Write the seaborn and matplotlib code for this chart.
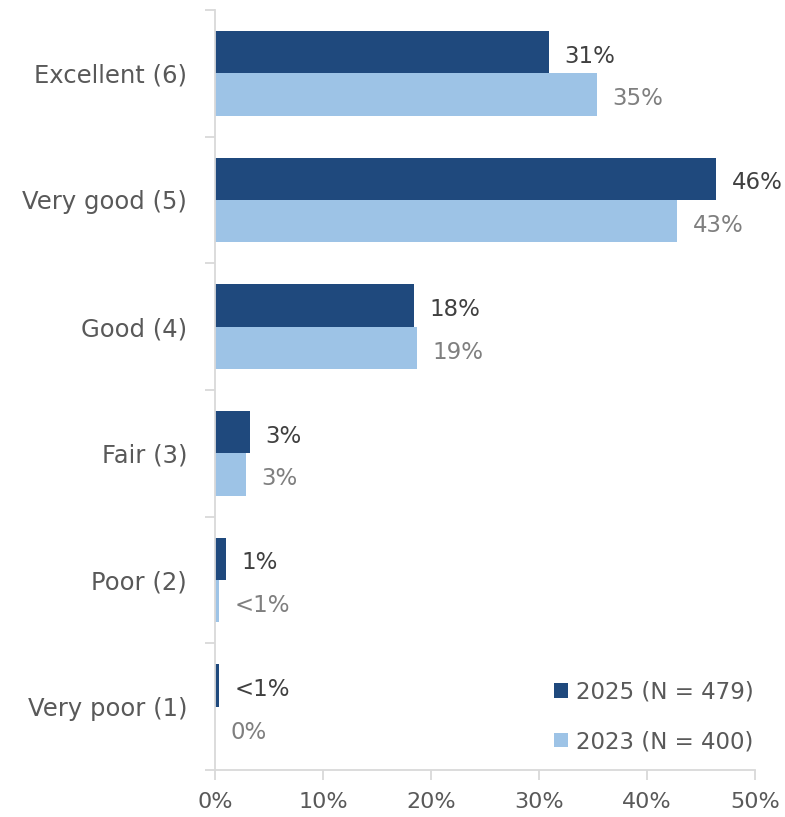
import matplotlib
matplotlib.use("Agg")
import matplotlib.pyplot as plt
from matplotlib.ticker import FixedLocator, FuncFormatter
from matplotlib.patches import Patch
import seaborn as sns
import pandas as pd

# Self-rated quality, share of respondents (%)
categories = ["Excellent (6)", "Very good (5)", "Good (4)", "Fair (3)", "Poor (2)", "Very poor (1)"]
series_names = ["2025 (N = 479)", "2023 (N = 400)"]
values_2025 = [30.9, 46.4, 18.4, 3.2, 1.0, 0.4]
values_2023 = [35.4, 42.8, 18.7, 2.9, 0.4, 0.0]
x_ticks = [0, 10, 20, 30, 40, 50]

dark_blue = "#1F497D"
light_blue = "#9DC3E6"
text_grey = "#595959"
axis_grey = "#D9D9D9"

df = pd.DataFrame({
    "category": categories * 2,
    "series": [series_names[0]] * len(categories) + [series_names[1]] * len(categories),
    "pct": values_2025 + values_2023,
})

sns.set_theme(style="white")
plt.rcParams["font.family"] = ["DejaVu Sans"]

fig = plt.figure(figsize=(7.85, 8.17), dpi=100)
ax = fig.add_axes([215 / 785, 47 / 817, 540 / 785, 760 / 817])

sns.barplot(
    data=df, y="category", x="pct", hue="series", order=categories,
    hue_order=series_names, palette=[dark_blue, light_blue],
    orient="h", width=0.67, dodge=True, saturation=1, ax=ax, legend=False,
)


def fmt_label(v):
    if v == 0:
        return "0%"
    if v < 0.5:
        return "<1%"
    return f"{int(v + 0.5)}%"


label_colors = ["#404040", "#7F7F7F"]
for cont, vals, col in zip(ax.containers, [values_2025, values_2023], label_colors):
    for bar, v in zip(cont, vals):
        bar.set_edgecolor("none")
        y_mid = bar.get_y() + bar.get_height() / 2
        ax.annotate(fmt_label(v), xy=(bar.get_width(), y_mid), xytext=(11, -3),
                    textcoords="offset points", ha="left", va="center",
                    fontsize=16.5, color=col)

ax.set_xlim(0, 50)
ax.set_ylim(len(categories) - 0.5, -0.5)
ax.xaxis.set_major_locator(FixedLocator(x_ticks))
ax.xaxis.set_major_formatter(FuncFormatter(lambda x, _: f"{x:.0f}%"))

# Category ticks sit on the group boundaries; labels stay centred
ax.set_yticks(range(len(categories)))
ax.set_yticklabels(categories)
ax.set_yticks([i - 0.5 for i in range(len(categories) + 1)], minor=True)
ax.tick_params(axis="y", which="major", left=True, length=0, pad=20,
               labelsize=17.5, labelcolor=text_grey)
ax.tick_params(axis="y", which="minor", left=True, length=7, width=1.3,
               color=axis_grey, direction="out")
ax.tick_params(axis="x", which="major", bottom=True, length=7, width=1.3, color=axis_grey,
               direction="out", labelsize=16, labelcolor=text_grey, pad=9)

for side in ["top", "right"]:
    ax.spines[side].set_visible(False)
for side in ["left", "bottom"]:
    ax.spines[side].set_color(axis_grey)
    ax.spines[side].set_linewidth(1.3)

ax.set_xlabel("")
ax.set_ylabel("")

handles = [Patch(facecolor=dark_blue, edgecolor="none"), Patch(facecolor=light_blue, edgecolor="none")]
leg = ax.legend(handles, series_names, loc="lower right", bbox_to_anchor=(1.015, 0.01),
                frameon=False, fontsize=16.5, handlelength=0.6, handleheight=0.6,
                handletextpad=0.35, labelspacing=1.17, borderaxespad=0.0)
for t in leg.get_texts():
    t.set_color(text_grey)

fig.savefig("out.png", dpi=100)
